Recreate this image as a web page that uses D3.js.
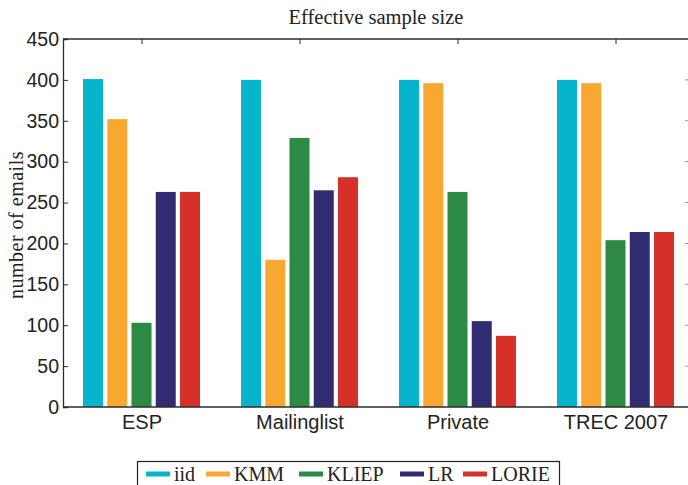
<!DOCTYPE html>
<html>
<head>
<meta charset="utf-8">
<script src="https://d3js.org/d3.v7.min.js"></script>
<style>
  body { margin: 0; background: #fff; }
</style>
</head>
<body>
<script>
// data
const datasets = ['ESP', 'Mailinglist', 'Private', 'TREC 2007'];
const methods = ['iid', 'KMM', 'KLIEP', 'LR', 'LORIE'];
const iid   = [401, 400, 400, 400];
const kmm   = [352, 180, 396, 396];
const kliep = [103, 329, 263, 204];
const lr    = [263, 265, 105, 214];
const lorie = [263, 281, 87, 214];
const yTicks = [0, 50, 100, 150, 200, 250, 300, 350, 400, 450];
const colors = ['#06b5cb', '#f8a830', '#2d8a45', '#312c72', '#d63128'];

const series = [iid, kmm, kliep, lr, lorie];
const rows = datasets.map((d, i) => ({ name: d, vals: series.map(s => s[i]) }));

const width = 688, height = 485;
const margin = { top: 39, left: 63, bottom: 78 };
const plotRight = 695;

const svg = d3.select('body').append('svg')
  .attr('width', width)
  .attr('height', height);

const x = d3.scaleBand().domain(datasets).range([margin.left, plotRight]);
const xi = d3.scaleBand().domain(methods).range([-59, 58]).paddingInner(0.175);
const y = d3.scaleLinear().domain([0, 450]).range([height - margin.bottom, margin.top]);

const color = d3.scaleOrdinal().domain(methods).range(colors);

// bars
const g = svg.selectAll('.grp')
  .data(rows)
  .enter().append('g')
  .attr('transform', d => `translate(${x(d.name) + x.bandwidth() / 2},0)`);

g.selectAll('rect')
  .data(d => d.vals.map((v, k) => ({ m: methods[k], v })))
  .enter().append('rect')
  .attr('x', d => xi(d.m))
  .attr('width', xi.bandwidth())
  .attr('y', d => y(d.v))
  .attr('height', d => y(0) - y(d.v))
  .attr('fill', d => color(d.m));

// box
const axisColor = '#2b2b2b';
svg.append('line').attr('x1', margin.left).attr('x2', width).attr('y1', y(450)).attr('y2', y(450))
  .attr('stroke', axisColor).attr('stroke-width', 1.3);
svg.append('line').attr('x1', margin.left).attr('x2', width).attr('y1', y(0)).attr('y2', y(0))
  .attr('stroke', axisColor).attr('stroke-width', 1.3);

// left axis
const yAxis = svg.append('g')
  .attr('transform', `translate(${margin.left},0)`)
  .call(d3.axisLeft(y).tickValues(yTicks).tickSize(-5).tickPadding(4));
yAxis.select('.domain').attr('stroke', axisColor).attr('stroke-width', 1.3);
yAxis.selectAll('.tick line').attr('stroke', axisColor);
yAxis.selectAll('.tick text')
  .attr('font-family', 'Liberation Sans, Arial, sans-serif')
  .attr('font-size', 19.5)
  .attr('fill', '#222');

// right-side ticks (spine is just outside the frame)
svg.append('g').selectAll('line')
  .data(yTicks.slice(1, -1))
  .enter().append('line')
  .attr('x1', 685).attr('x2', 690)
  .attr('y1', d => y(d)).attr('y2', d => y(d))
  .attr('stroke', '#999');

// top ticks
svg.append('g').selectAll('line')
  .data(datasets)
  .enter().append('line')
  .attr('x1', d => x(d) + x.bandwidth() / 2).attr('x2', d => x(d) + x.bandwidth() / 2)
  .attr('y1', y(450)).attr('y2', y(450) + 5)
  .attr('stroke', axisColor);

// x labels
svg.append('g').selectAll('text')
  .data(datasets)
  .enter().append('text')
  .attr('x', d => x(d) + x.bandwidth() / 2)
  .attr('y', y(0) + 22)
  .attr('text-anchor', 'middle')
  .attr('font-family', 'Liberation Sans, Arial, sans-serif')
  .attr('font-size', 20)
  .attr('fill', '#222')
  .text(d => d);

// title
svg.append('text')
  .attr('x', 376).attr('y', 24)
  .attr('text-anchor', 'middle')
  .attr('font-family', 'Liberation Serif, Times New Roman, serif')
  .attr('font-size', 20.5)
  .attr('fill', '#222')
  .text('Effective sample size');

// y label
svg.append('text')
  .attr('transform', `translate(23,${(y(0) + y(450)) / 2 + 2}) rotate(-90)`)
  .attr('text-anchor', 'middle')
  .attr('font-family', 'Liberation Serif, Times New Roman, serif')
  .attr('font-size', 20)
  .attr('letter-spacing', 0.5)
  .attr('fill', '#222')
  .text('number of emails');

// legend
const legend = svg.append('g');
legend.append('rect')
  .attr('x', 137.5).attr('y', 461.5)
  .attr('width', 422).attr('height', 30)
  .attr('fill', 'none').attr('stroke', '#222').attr('stroke-width', 1.2);

const legX = [146, 206, 299, 400, 463];
const item = legend.selectAll('.item')
  .data(methods)
  .enter().append('g')
  .attr('transform', (d, i) => `translate(${legX[i]},474)`);
item.append('line')
  .attr('x1', 0).attr('x2', 24)
  .attr('stroke', d => color(d)).attr('stroke-width', 5);
item.append('text')
  .attr('x', 28).attr('y', 7)
  .attr('font-family', 'Liberation Serif, Times New Roman, serif')
  .attr('font-size', 20)
  .attr('fill', '#222')
  .text(d => d);
</script>
</body>
</html>
